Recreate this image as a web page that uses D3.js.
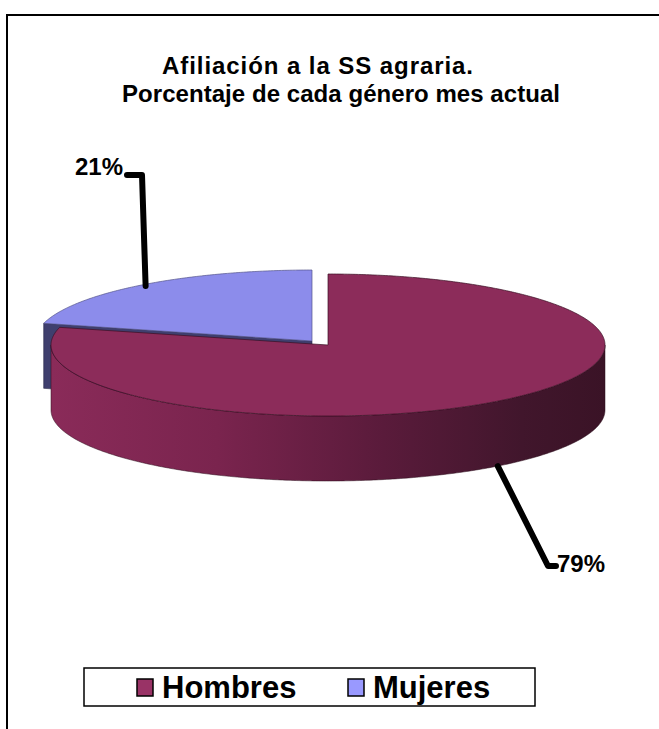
<!DOCTYPE html>
<html>
<head>
<meta charset="utf-8">
<script src="https://cdn.jsdelivr.net/npm/d3@7"></script>
<style>
  body { margin: 0; background: #fff; }
  svg { display: block; font-family: "Liberation Sans", Arial, sans-serif; }
</style>
</head>
<body>
<div id="chart"></div>
<script>
// data
const categories = ["Hombres", "Mujeres"];
const values = [79, 21];
const pctLabels = ["79%", "21%"];
const titleLines = ["Afiliación a la SS agraria.", "Porcentaje de cada género mes actual"];

const topColors = ["#8c2c5a", "#8c8ceb"];
const legendColors = ["#993366", "#9999ff"];

const width = 659, height = 729;
const svg = d3.select("#chart").append("svg")
    .attr("width", width)
    .attr("height", height);

// outer frame (runs past right/bottom like the cropped original)
svg.append("rect")
    .attr("x", 7).attr("y", 15)
    .attr("width", 700).attr("height", 760)
    .attr("fill", "none").attr("stroke", "#000").attr("stroke-width", 2);

// title
svg.selectAll("text.title")
    .data(titleLines)
    .enter().append("text")
    .attr("class", "title")
    .attr("x", (d, i) => i === 0 ? 162 : 122)
    .attr("y", (d, i) => i === 0 ? 74 : 102)
    .attr("textLength", (d, i) => i === 0 ? 311 : 438)
    .attr("lengthAdjust", "spacing")
    .attr("font-size", 24)
    .attr("font-weight", "bold")
    .text(d => d);

// 3D pie geometry
const cx = 328, cy = 345, rx = 277, ry = 71, depth = 65;
const explode = { dx: -16, dy: -4 };

const pie = d3.pie().sort(null).value(d => d);
const arcs = pie(values);

// unit-ellipse -> screen scales
const xs = d3.scaleLinear().domain([-1, 1]).range([cx - rx, cx + rx]);
const ys = d3.scaleLinear().domain([-1, 1]).range([cy - ry, cy + ry]);
const rim = (a, off, dz) => [xs(Math.sin(a)) + off.dx, ys(-Math.cos(a)) + off.dy + (dz || 0)];
const line = d3.line();

function samples(a0, a1) {
    const n = Math.max(2, Math.ceil((a1 - a0) / 0.01));
    return d3.range(n + 1).map(i => a0 + (a1 - a0) * i / n);
}

const defs = svg.append("defs");
const grad = defs.append("linearGradient")
    .attr("id", "sideGrad")
    .attr("gradientUnits", "userSpaceOnUse")
    .attr("x1", cx - rx).attr("x2", cx + rx).attr("y1", 0).attr("y2", 0);
[[0, "#8a2b59"], [0.3, "#7a244e"], [0.6, "#5a1b3b"], [0.85, "#41162c"], [1, "#3a1326"]]
    .forEach(s => grad.append("stop").attr("offset", s[0]).attr("stop-color", s[1]));

const pieG = svg.append("g");
const noOff = { dx: 0, dy: 0 };

// Mujeres: radial face at its start angle (seen at the left), then top
const m = arcs[1];
const mv = [cx + explode.dx, cy + explode.dy];
const mr = rim(m.startAngle, explode);
pieG.append("path")
    .attr("d", line([mv, mr, [mr[0], mr[1] + depth], [mv[0], mv[1] + depth]]) + "Z")
    .attr("fill", "#3f3f6e")
    .attr("stroke", "#2a2a4a").attr("stroke-width", 0.6);
pieG.append("path")
    .attr("d", line([mv].concat(samples(m.startAngle, m.endAngle).map(a => rim(a, explode)))) + "Z")
    .attr("fill", topColors[1])
    .attr("stroke", "#55558a").attr("stroke-width", 0.7);

// Hombres: outer wall on the front half, then top
const h = arcs[0];
const w0 = Math.max(h.startAngle, Math.PI / 2), w1 = Math.min(h.endAngle, 3 * Math.PI / 2);
const wallTop = samples(w0, w1).map(a => rim(a, noOff));
const wallBot = samples(w0, w1).reverse().map(a => rim(a, noOff, depth));
pieG.append("path")
    .attr("d", line(wallTop.concat(wallBot)) + "Z")
    .attr("fill", "url(#sideGrad)")
    .attr("stroke", "#2a0d1b").attr("stroke-width", 0.5);
pieG.append("path")
    .attr("d", line([[cx, cy]].concat(samples(h.startAngle, h.endAngle).map(a => rim(a, noOff)))) + "Z")
    .attr("fill", topColors[0])
    .attr("stroke", "#3a1024").attr("stroke-width", 0.7);

// leader lines and percentage labels
const midA = d => (d.startAngle + d.endAngle) / 2;
const mAnchor = rim(midA(m), explode);
const mAnchorIn = [mv[0] + (mAnchor[0] - mv[0]) * 0.98, mv[1] + (mAnchor[1] - mv[1]) * 0.98];
const hAnchor = rim(midA(h), noOff, depth);

const leaders = [
    [hAnchor, [548, 566], [556, 566]],
    [mAnchorIn, [142, 175], [127, 175]]
];
svg.selectAll("path.leader")
    .data(leaders)
    .enter().append("path")
    .attr("class", "leader")
    .attr("d", d => line(d))
    .attr("fill", "none")
    .attr("stroke", "#000")
    .attr("stroke-width", 6)
    .attr("stroke-linecap", "round")
    .attr("stroke-linejoin", "round");

svg.selectAll("text.pct")
    .data(pctLabels)
    .enter().append("text")
    .attr("class", "pct")
    .attr("x", (d, i) => i === 0 ? 557 : 75)
    .attr("y", (d, i) => i === 0 ? 572 : 175)
    .attr("font-size", 24)
    .attr("font-weight", "bold")
    .text(d => d);

// legend
const legend = svg.append("g");
legend.append("rect")
    .attr("x", 84).attr("y", 668).attr("width", 451).attr("height", 38)
    .attr("fill", "#fff").attr("stroke", "#000").attr("stroke-width", 1.5);

const legendX = d3.scaleOrdinal().domain(categories).range([137, 348]);
const item = legend.selectAll("g.item")
    .data(categories)
    .enter().append("g")
    .attr("class", "item")
    .attr("transform", d => `translate(${legendX(d)},679)`);
item.append("rect")
    .attr("width", 16).attr("height", 17)
    .attr("fill", (d, i) => legendColors[i])
    .attr("stroke", "#000").attr("stroke-width", 1.5);
item.append("text")
    .attr("x", 25).attr("y", 19)
    .attr("font-size", 31)
    .attr("font-weight", "bold")
    .text(d => d);
</script>
</body>
</html>
